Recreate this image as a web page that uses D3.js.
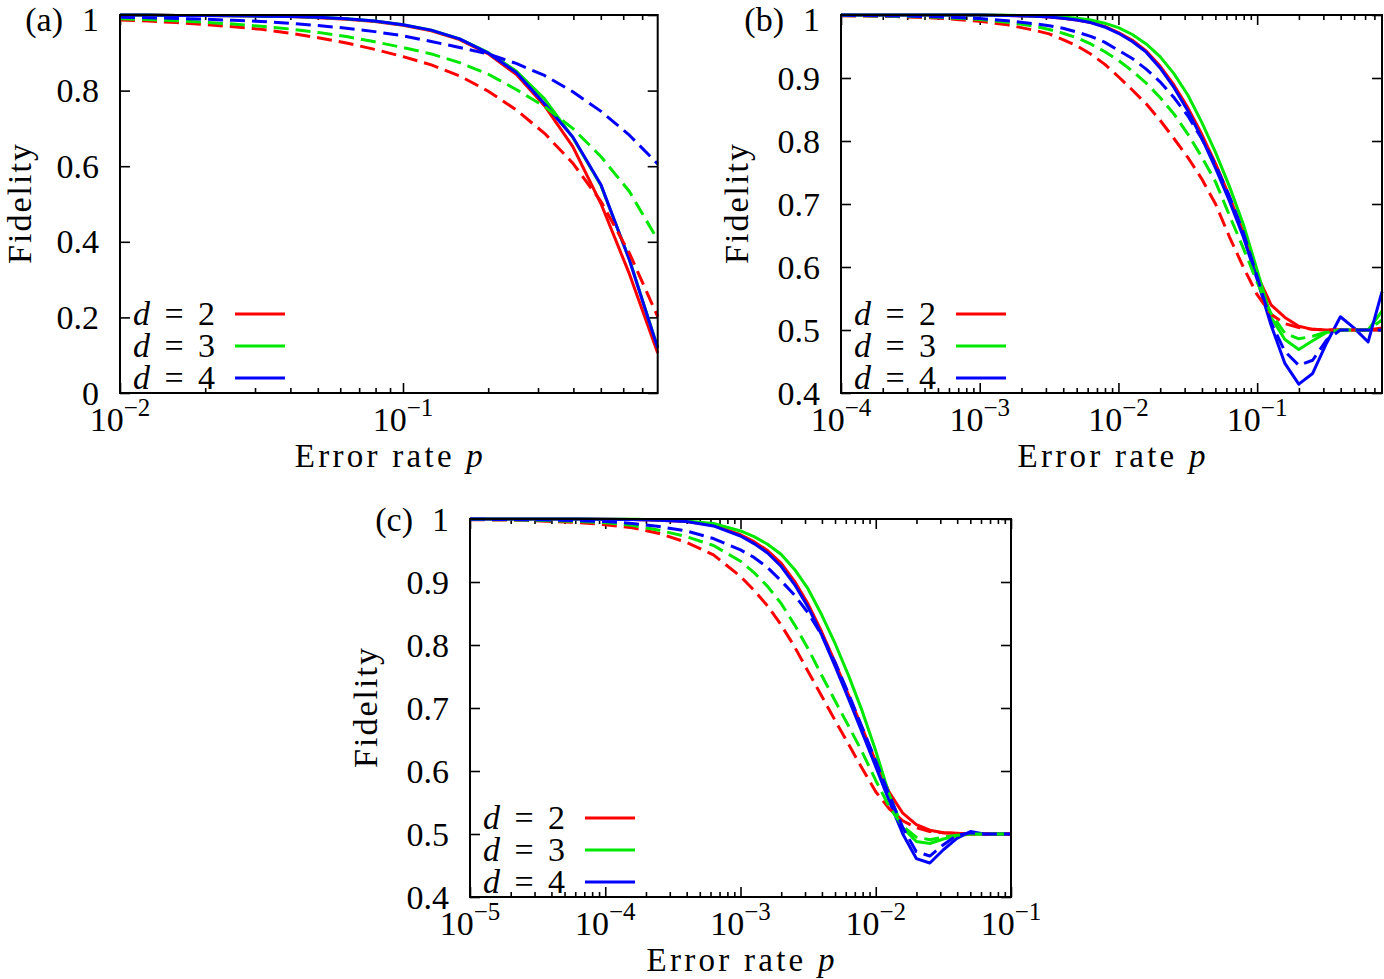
<!DOCTYPE html>
<html>
<head>
<meta charset="utf-8">
<script src="https://cdn.jsdelivr.net/npm/d3@7/dist/d3.min.js"></script>
<style>
  body { margin: 0; background: #ffffff; }
  svg text { font-family: "Liberation Serif", "Times New Roman", serif; fill: #000; }
</style>
</head>
<body>
<svg id="chart" width="1384" height="979"></svg>
<script>
// ---------------- DATA ----------------
// Panel (a): log10 of error rate p
const aExp = [-2.0, -1.9, -1.8, -1.7, -1.6, -1.5, -1.4, -1.3, -1.2, -1.1, -1.0, -0.9, -0.8, -0.7, -0.6, -0.5, -0.4, -0.3, -0.2, -0.1];
const aSolidD2 = [1.000, 1.000, 0.999, 0.999, 0.998, 0.997, 0.996, 0.993, 0.989, 0.983, 0.973, 0.958, 0.935, 0.898, 0.843, 0.760, 0.652, 0.500, 0.315, 0.106];
const aSolidD3 = [1.000, 1.000, 0.999, 0.999, 0.998, 0.997, 0.996, 0.994, 0.990, 0.984, 0.974, 0.960, 0.937, 0.901, 0.852, 0.778, 0.676, 0.548, 0.353, 0.120];
const aSolidD4 = [1.000, 1.000, 0.999, 0.999, 0.998, 0.997, 0.996, 0.994, 0.990, 0.984, 0.974, 0.960, 0.937, 0.900, 0.848, 0.765, 0.677, 0.550, 0.352, 0.119];
const aDashD2  = [0.987, 0.984, 0.980, 0.975, 0.969, 0.962, 0.952, 0.940, 0.926, 0.909, 0.890, 0.868, 0.839, 0.799, 0.749, 0.687, 0.608, 0.506, 0.370, 0.202];
const aDashD3  = [0.990, 0.988, 0.985, 0.981, 0.976, 0.970, 0.963, 0.954, 0.943, 0.929, 0.914, 0.897, 0.874, 0.844, 0.803, 0.758, 0.700, 0.625, 0.533, 0.405];
const aDashD4  = [0.994, 0.993, 0.991, 0.989, 0.986, 0.983, 0.978, 0.972, 0.965, 0.956, 0.945, 0.930, 0.914, 0.897, 0.872, 0.840, 0.797, 0.745, 0.682, 0.606];

// Panel (b)
const bExp = [-4.0, -3.6, -3.3, -3.0, -2.8, -2.6, -2.5, -2.4, -2.3, -2.2, -2.1, -2.0, -1.9, -1.8, -1.7, -1.6, -1.5, -1.4, -1.3, -1.2, -1.1, -1.0, -0.9, -0.8, -0.7, -0.6, -0.5, -0.4, -0.3, -0.2, -0.1];
const bSolidD2 = [1.000, 1.000, 1.000, 1.000, 0.9992, 0.998, 0.997, 0.995, 0.992, 0.988, 0.982, 0.972, 0.960, 0.943, 0.919, 0.889, 0.853, 0.811, 0.764, 0.712, 0.655, 0.587, 0.540, 0.520, 0.506, 0.501, 0.500, 0.500, 0.500, 0.500, 0.503];
const bSolidD3 = [1.000, 1.000, 1.000, 1.000, 0.9995, 0.9986, 0.998, 0.997, 0.995, 0.992, 0.987, 0.980, 0.969, 0.954, 0.934, 0.907, 0.873, 0.830, 0.782, 0.728, 0.668, 0.595, 0.520, 0.485, 0.469, 0.483, 0.496, 0.500, 0.500, 0.500, 0.530];
const bSolidD4 = [1.000, 1.000, 1.000, 1.000, 0.9992, 0.998, 0.997, 0.995, 0.992, 0.988, 0.981, 0.971, 0.958, 0.941, 0.916, 0.885, 0.848, 0.805, 0.757, 0.705, 0.648, 0.580, 0.508, 0.447, 0.414, 0.431, 0.479, 0.521, 0.503, 0.481, 0.561];
const bDashD2  = [0.999, 0.9975, 0.995, 0.990, 0.9845, 0.9755, 0.970, 0.961, 0.951, 0.938, 0.922, 0.902, 0.881, 0.859, 0.833, 0.804, 0.774, 0.740, 0.700, 0.648, 0.600, 0.556, 0.525, 0.510, 0.504, 0.501, 0.500, 0.500, 0.500, 0.500, 0.500];
const bDashD3  = [0.9993, 0.998, 0.9965, 0.993, 0.9886, 0.982, 0.977, 0.971, 0.964, 0.954, 0.942, 0.928, 0.911, 0.892, 0.869, 0.843, 0.811, 0.775, 0.735, 0.682, 0.630, 0.576, 0.526, 0.495, 0.486, 0.490, 0.497, 0.500, 0.500, 0.500, 0.516];
const bDashD4  = [0.9995, 0.9986, 0.9972, 0.9944, 0.991, 0.986, 0.983, 0.979, 0.973, 0.966, 0.957, 0.944, 0.931, 0.914, 0.894, 0.869, 0.840, 0.804, 0.762, 0.712, 0.655, 0.585, 0.512, 0.466, 0.444, 0.452, 0.484, 0.500, 0.500, 0.500, 0.500];

// Panel (c)
const cExp = [-5.0, -4.6, -4.2, -4.0, -3.8, -3.6, -3.4, -3.2, -3.0, -2.9, -2.8, -2.7, -2.6, -2.5, -2.4, -2.3, -2.2, -2.1, -2.0, -1.9, -1.8, -1.7, -1.6, -1.5, -1.4, -1.3, -1.2, -1.1, -1.0];
const cSolidD2 = [1.000, 1.000, 1.000, 0.9997, 0.9993, 0.998, 0.996, 0.990, 0.975, 0.964, 0.950, 0.930, 0.901, 0.865, 0.821, 0.772, 0.720, 0.668, 0.615, 0.566, 0.533, 0.515, 0.506, 0.502, 0.501, 0.500, 0.500, 0.500, 0.500];
const cSolidD3 = [1.000, 1.000, 1.000, 0.9998, 0.9996, 0.999, 0.997, 0.993, 0.981, 0.972, 0.960, 0.944, 0.920, 0.889, 0.848, 0.802, 0.751, 0.695, 0.632, 0.562, 0.510, 0.488, 0.485, 0.492, 0.497, 0.500, 0.500, 0.500, 0.500];
const cSolidD4 = [1.000, 1.000, 1.000, 0.9997, 0.9993, 0.998, 0.996, 0.989, 0.973, 0.961, 0.946, 0.925, 0.896, 0.860, 0.816, 0.766, 0.714, 0.661, 0.607, 0.552, 0.500, 0.461, 0.454, 0.475, 0.493, 0.504, 0.500, 0.500, 0.500];
const cDashD2  = [0.999, 0.998, 0.9944, 0.991, 0.986, 0.977, 0.963, 0.943, 0.909, 0.887, 0.862, 0.832, 0.797, 0.758, 0.719, 0.680, 0.642, 0.604, 0.567, 0.540, 0.521, 0.510, 0.504, 0.502, 0.501, 0.500, 0.500, 0.500, 0.500];
const cDashD3  = [0.9994, 0.9984, 0.996, 0.994, 0.990, 0.982, 0.972, 0.958, 0.933, 0.915, 0.893, 0.866, 0.832, 0.794, 0.752, 0.711, 0.671, 0.630, 0.585, 0.543, 0.512, 0.495, 0.491, 0.495, 0.498, 0.500, 0.500, 0.500, 0.500];
const cDashD4  = [0.9996, 0.999, 0.9975, 0.996, 0.993, 0.988, 0.981, 0.969, 0.951, 0.939, 0.923, 0.902, 0.879, 0.851, 0.816, 0.772, 0.722, 0.669, 0.616, 0.562, 0.510, 0.472, 0.465, 0.483, 0.498, 0.502, 0.500, 0.500, 0.500];

// Tick values / labels
const aYTicks = [0, 0.2, 0.4, 0.6, 0.8, 1];
const bcYTicks = [0.4, 0.5, 0.6, 0.7, 0.8, 0.9, 1];
const aXDecades = [-2, -1];
const bXDecades = [-4, -3, -2, -1];
const cXDecades = [-5, -4, -3, -2, -1];
const legendLabels = ["2", "3", "4"];
const seriesColors = ["#ff0000", "#00e800", "#0000ff"];

// ---------------- DRAWING ----------------
const svg = d3.select("#chart");
const FS = 34;

function drawPanel(o) {
  const x = d3.scaleLog().domain([Math.pow(10, o.expLo), Math.pow(10, o.expHi)]).range([o.left, o.right]);
  const y = d3.scaleLinear().domain(o.yDomain).range([o.bottom, o.top]);
  const g = svg.append("g");

  const majors = o.decades.map(d => Math.pow(10, d));
  const minors = [];
  for (let d = Math.floor(o.expLo); d <= Math.ceil(o.expHi); d++) {
    for (let m = 2; m <= 9; m++) {
      const v = m * Math.pow(10, d);
      if (Math.log10(v) > o.expLo + 1e-6 && Math.log10(v) < o.expHi - 1e-6) minors.push(v);
    }
  }

  const tickStyle = sel => {
    sel.select(".domain").remove();
    sel.selectAll(".tick line").attr("stroke", "#000").attr("stroke-width", 1.6);
    sel.selectAll(".tick text").remove();
  };

  g.append("g").attr("transform", `translate(0,${o.bottom})`)
    .call(d3.axisBottom(x).tickValues(majors).tickSize(-10).tickFormat("")).call(tickStyle);
  g.append("g").attr("transform", `translate(0,${o.bottom})`)
    .call(d3.axisBottom(x).tickValues(minors).tickSize(-5).tickFormat("")).call(tickStyle);
  g.append("g").attr("transform", `translate(0,${o.top})`)
    .call(d3.axisTop(x).tickValues(majors).tickSize(-10).tickFormat("")).call(tickStyle);
  g.append("g").attr("transform", `translate(0,${o.top})`)
    .call(d3.axisTop(x).tickValues(minors).tickSize(-5).tickFormat("")).call(tickStyle);
  g.append("g").attr("transform", `translate(${o.left},0)`)
    .call(d3.axisLeft(y).tickValues(o.yTicks).tickSize(-10).tickFormat("")).call(tickStyle);
  g.append("g").attr("transform", `translate(${o.right},0)`)
    .call(d3.axisRight(y).tickValues(o.yTicks).tickSize(-10).tickFormat("")).call(tickStyle);

  const line = d3.line().x(d => x(d[0])).y(d => y(d[1])).curve(d3.curveLinear);
  const pVals = o.exps.map(e => Math.pow(10, e));
  const drawSeries = (vals, color, dashed) => {
    g.append("path")
      .datum(vals.map((v, i) => [pVals[i], v]))
      .attr("d", line)
      .attr("fill", "none")
      .attr("stroke", color)
      .attr("stroke-width", 3)
      .attr("stroke-linejoin", "round")
      .attr("stroke-dasharray", dashed ? "15,7" : null);
  };
  o.solid.forEach((s, i) => drawSeries(s, seriesColors[i], false));
  o.dashed.forEach((s, i) => drawSeries(s, seriesColors[i], true));

  g.append("rect")
    .attr("x", o.left).attr("y", o.top)
    .attr("width", o.right - o.left).attr("height", o.bottom - o.top)
    .attr("fill", "none").attr("stroke", "#000").attr("stroke-width", 2);

  // y tick labels
  o.yTicks.forEach(v => {
    const base = Math.max(y(v) + 11.5, 31);
    g.append("text")
      .attr("x", o.left - 21).attr("y", base)
      .attr("text-anchor", "end").attr("font-size", FS)
      .text(v === 0 ? "0" : (v === 1 ? "1" : d3.format(".1f")(v)));
  });

  // x tick labels (10^n)
  o.decades.forEach(d => {
    const t = g.append("text")
      .attr("x", x(Math.pow(10, d))).attr("y", o.bottom + 38)
      .attr("text-anchor", "middle").attr("font-size", 34);
    t.append("tspan").text("10");
    t.append("tspan").attr("font-size", 25).attr("dy", -15).text("\u2212" + Math.abs(d));
  });

  // x axis title
  const xt = g.append("text")
    .attr("x", (o.left + o.right) / 2).attr("y", o.bottom + 74)
    .attr("text-anchor", "middle").attr("font-size", 33)
    .attr("textLength", 188).attr("lengthAdjust", "spacing");
  xt.append("tspan").text("Error rate ");
  xt.append("tspan").attr("font-style", "italic").text("p");

  // y axis title
  const cy = (o.top + o.bottom) / 2;
  g.append("text")
    .attr("transform", `translate(${Math.max(o.left - 93, 31)},${cy}) rotate(-90)`)
    .attr("text-anchor", "middle").attr("font-size", 34)
    .attr("textLength", 120).attr("lengthAdjust", "spacing")
    .text("Fidelity");

  // panel label
  g.append("text")
    .attr("x", o.left - 57).attr("y", Math.max(o.top + 12, 31))
    .attr("text-anchor", "end").attr("font-size", FS)
    .text(o.label);

  // legend
  legendLabels.forEach((lab, i) => {
    const ly = o.bottom - 79 + i * 32;
    const t = g.append("text")
      .attr("x", o.left + 95).attr("y", ly + 11)
      .attr("text-anchor", "end").attr("font-size", 34)
      .attr("textLength", 82).attr("lengthAdjust", "spacing");
    t.append("tspan").attr("font-style", "italic").text("d");
    t.append("tspan").text(" = " + lab);
    g.append("line")
      .attr("x1", o.left + 115).attr("x2", o.left + 165)
      .attr("y1", ly).attr("y2", ly)
      .attr("stroke", seriesColors[i]).attr("stroke-width", 3.2);
  });
}

drawPanel({
  label: "(a)", left: 120, right: 657.7, top: 15, bottom: 393,
  expLo: -2, expHi: -0.1, yDomain: [0, 1], yTicks: aYTicks, decades: aXDecades,
  exps: aExp, solid: [aSolidD2, aSolidD3, aSolidD4], dashed: [aDashD2, aDashD3, aDashD4]
});
drawPanel({
  label: "(b)", left: 841, right: 1382, top: 15, bottom: 393,
  expLo: -4, expHi: -0.1, yDomain: [0.4, 1], yTicks: bcYTicks, decades: bXDecades,
  exps: bExp, solid: [bSolidD2, bSolidD3, bSolidD4], dashed: [bDashD2, bDashD3, bDashD4]
});
drawPanel({
  label: "(c)", left: 470, right: 1011, top: 519, bottom: 897,
  expLo: -5, expHi: -1, yDomain: [0.4, 1], yTicks: bcYTicks, decades: cXDecades,
  exps: cExp, solid: [cSolidD2, cSolidD3, cSolidD4], dashed: [cDashD2, cDashD3, cDashD4]
});
</script>
</body>
</html>
